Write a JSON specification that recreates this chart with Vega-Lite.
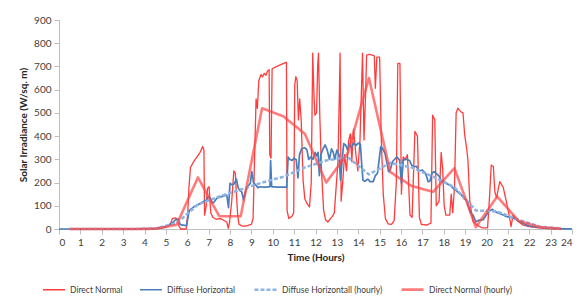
{
"$schema":"https://vega.github.io/schema/vega-lite/v6.json",
"width":513,"height":209,
"autosize":{"type":"none"},
"padding":{"left":59,"top":20,"right":10,"bottom":69},
"background":"white",
"config":{"view":{"stroke":null},"font":"Lato",
"axis":{"grid":false,"domainColor":"#BFBFBF","tickColor":"#BFBFBF","tickSize":5,"labelPadding":3,"labelFontSize":10,"labelColor":"#404040","titleFontSize":10,"titleFontWeight":"bold","titleColor":"#262626"},
"legend":{"orient":"none","legendX":-17,"legendY":257,"direction":"horizontal","labelFontSize":8.5,"labelColor":"#404040","symbolType":"stroke","symbolSize":484,"labelOffset":4,"columnPadding":13,"title":null}},
"data":{"values":[
{"s":"Direct Normal","h":0.5,"v":0},{"s":"Direct Normal","h":4.0,"v":0},{"s":"Direct Normal","h":4.5,"v":1},{"s":"Direct Normal","h":4.8,"v":4},{"s":"Direct Normal","h":5.0,"v":8},{"s":"Direct Normal","h":5.15,"v":15},{"s":"Direct Normal","h":5.25,"v":30},{"s":"Direct Normal","h":5.3,"v":45},{"s":"Direct Normal","h":5.45,"v":48},{"s":"Direct Normal","h":5.55,"v":42},{"s":"Direct Normal","h":5.62,"v":10},{"s":"Direct Normal","h":5.7,"v":0},{"s":"Direct Normal","h":5.95,"v":0},{"s":"Direct Normal","h":6.02,"v":60},{"s":"Direct Normal","h":6.08,"v":180},{"s":"Direct Normal","h":6.15,"v":265},{"s":"Direct Normal","h":6.3,"v":290},{"s":"Direct Normal","h":6.45,"v":310},{"s":"Direct Normal","h":6.6,"v":330},{"s":"Direct Normal","h":6.72,"v":355},{"s":"Direct Normal","h":6.78,"v":340},{"s":"Direct Normal","h":6.81,"v":60},{"s":"Direct Normal","h":6.88,"v":95},{"s":"Direct Normal","h":6.95,"v":175},{"s":"Direct Normal","h":7.02,"v":182},{"s":"Direct Normal","h":7.1,"v":70},{"s":"Direct Normal","h":7.2,"v":50},{"s":"Direct Normal","h":7.35,"v":42},{"s":"Direct Normal","h":7.55,"v":45},{"s":"Direct Normal","h":7.7,"v":38},{"s":"Direct Normal","h":7.85,"v":30},{"s":"Direct Normal","h":7.92,"v":3},{"s":"Direct Normal","h":7.98,"v":30},{"s":"Direct Normal","h":8.08,"v":120},{"s":"Direct Normal","h":8.18,"v":250},{"s":"Direct Normal","h":8.25,"v":240},{"s":"Direct Normal","h":8.3,"v":150},{"s":"Direct Normal","h":8.36,"v":60},{"s":"Direct Normal","h":8.42,"v":20},{"s":"Direct Normal","h":8.6,"v":12},{"s":"Direct Normal","h":8.8,"v":14},{"s":"Direct Normal","h":9.0,"v":20},{"s":"Direct Normal","h":9.08,"v":45},{"s":"Direct Normal","h":9.15,"v":310},{"s":"Direct Normal","h":9.22,"v":560},{"s":"Direct Normal","h":9.28,"v":520},{"s":"Direct Normal","h":9.35,"v":640},{"s":"Direct Normal","h":9.45,"v":665},{"s":"Direct Normal","h":9.52,"v":655},{"s":"Direct Normal","h":9.6,"v":670},{"s":"Direct Normal","h":9.68,"v":662},{"s":"Direct Normal","h":9.75,"v":680},{"s":"Direct Normal","h":9.83,"v":686},{"s":"Direct Normal","h":9.86,"v":320},{"s":"Direct Normal","h":9.92,"v":305},{"s":"Direct Normal","h":9.97,"v":690},{"s":"Direct Normal","h":10.3,"v":705},{"s":"Direct Normal","h":10.64,"v":718},{"s":"Direct Normal","h":10.67,"v":80},{"s":"Direct Normal","h":10.75,"v":45},{"s":"Direct Normal","h":10.9,"v":55},{"s":"Direct Normal","h":10.98,"v":70},{"s":"Direct Normal","h":11.03,"v":620},{"s":"Direct Normal","h":11.08,"v":656},{"s":"Direct Normal","h":11.14,"v":640},{"s":"Direct Normal","h":11.2,"v":470},{"s":"Direct Normal","h":11.26,"v":560},{"s":"Direct Normal","h":11.33,"v":470},{"s":"Direct Normal","h":11.42,"v":210},{"s":"Direct Normal","h":11.5,"v":130},{"s":"Direct Normal","h":11.6,"v":110},{"s":"Direct Normal","h":11.72,"v":95},{"s":"Direct Normal","h":11.8,"v":200},{"s":"Direct Normal","h":11.87,"v":757},{"s":"Direct Normal","h":11.92,"v":600},{"s":"Direct Normal","h":11.97,"v":490},{"s":"Direct Normal","h":12.05,"v":500},{"s":"Direct Normal","h":12.1,"v":700},{"s":"Direct Normal","h":12.14,"v":757},{"s":"Direct Normal","h":12.2,"v":490},{"s":"Direct Normal","h":12.28,"v":250},{"s":"Direct Normal","h":12.38,"v":80},{"s":"Direct Normal","h":12.47,"v":40},{"s":"Direct Normal","h":12.58,"v":30},{"s":"Direct Normal","h":12.7,"v":45},{"s":"Direct Normal","h":12.8,"v":55},{"s":"Direct Normal","h":12.88,"v":70},{"s":"Direct Normal","h":12.95,"v":160},{"s":"Direct Normal","h":13.05,"v":290},{"s":"Direct Normal","h":13.12,"v":600},{"s":"Direct Normal","h":13.15,"v":757},{"s":"Direct Normal","h":13.2,"v":120},{"s":"Direct Normal","h":13.28,"v":210},{"s":"Direct Normal","h":13.36,"v":320},{"s":"Direct Normal","h":13.45,"v":250},{"s":"Direct Normal","h":13.55,"v":380},{"s":"Direct Normal","h":13.63,"v":410},{"s":"Direct Normal","h":13.7,"v":290},{"s":"Direct Normal","h":13.78,"v":430},{"s":"Direct Normal","h":13.88,"v":330},{"s":"Direct Normal","h":13.98,"v":250},{"s":"Direct Normal","h":14.08,"v":380},{"s":"Direct Normal","h":14.15,"v":600},{"s":"Direct Normal","h":14.2,"v":757},{"s":"Direct Normal","h":14.27,"v":383},{"s":"Direct Normal","h":14.35,"v":600},{"s":"Direct Normal","h":14.39,"v":749},{"s":"Direct Normal","h":14.55,"v":752},{"s":"Direct Normal","h":14.75,"v":746},{"s":"Direct Normal","h":14.8,"v":606},{"s":"Direct Normal","h":14.87,"v":740},{"s":"Direct Normal","h":15.0,"v":740},{"s":"Direct Normal","h":15.08,"v":380},{"s":"Direct Normal","h":15.17,"v":150},{"s":"Direct Normal","h":15.27,"v":45},{"s":"Direct Normal","h":15.4,"v":22},{"s":"Direct Normal","h":15.55,"v":20},{"s":"Direct Normal","h":15.68,"v":35},{"s":"Direct Normal","h":15.78,"v":200},{"s":"Direct Normal","h":15.85,"v":713},{"s":"Direct Normal","h":15.95,"v":713},{"s":"Direct Normal","h":16.02,"v":150},{"s":"Direct Normal","h":16.1,"v":310},{"s":"Direct Normal","h":16.2,"v":300},{"s":"Direct Normal","h":16.3,"v":320},{"s":"Direct Normal","h":16.42,"v":60},{"s":"Direct Normal","h":16.52,"v":50},{"s":"Direct Normal","h":16.65,"v":420},{"s":"Direct Normal","h":16.77,"v":400},{"s":"Direct Normal","h":16.86,"v":50},{"s":"Direct Normal","h":16.95,"v":20},{"s":"Direct Normal","h":17.2,"v":17},{"s":"Direct Normal","h":17.4,"v":25},{"s":"Direct Normal","h":17.48,"v":490},{"s":"Direct Normal","h":17.58,"v":470},{"s":"Direct Normal","h":17.65,"v":100},{"s":"Direct Normal","h":17.78,"v":120},{"s":"Direct Normal","h":17.88,"v":330},{"s":"Direct Normal","h":17.95,"v":260},{"s":"Direct Normal","h":18.02,"v":100},{"s":"Direct Normal","h":18.1,"v":60},{"s":"Direct Normal","h":18.28,"v":60},{"s":"Direct Normal","h":18.35,"v":150},{"s":"Direct Normal","h":18.42,"v":70},{"s":"Direct Normal","h":18.5,"v":177},{"s":"Direct Normal","h":18.58,"v":500},{"s":"Direct Normal","h":18.66,"v":520},{"s":"Direct Normal","h":18.8,"v":505},{"s":"Direct Normal","h":18.9,"v":500},{"s":"Direct Normal","h":18.98,"v":405},{"s":"Direct Normal","h":19.07,"v":348},{"s":"Direct Normal","h":19.13,"v":300},{"s":"Direct Normal","h":19.22,"v":118},{"s":"Direct Normal","h":19.37,"v":31},{"s":"Direct Normal","h":19.6,"v":15},{"s":"Direct Normal","h":19.8,"v":5},{"s":"Direct Normal","h":20.05,"v":5},{"s":"Direct Normal","h":20.15,"v":150},{"s":"Direct Normal","h":20.22,"v":275},{"s":"Direct Normal","h":20.32,"v":270},{"s":"Direct Normal","h":20.39,"v":160},{"s":"Direct Normal","h":20.47,"v":135},{"s":"Direct Normal","h":20.62,"v":204},{"s":"Direct Normal","h":20.78,"v":180},{"s":"Direct Normal","h":20.93,"v":118},{"s":"Direct Normal","h":21.07,"v":55},{"s":"Direct Normal","h":21.15,"v":10},{"s":"Direct Normal","h":21.24,"v":60},{"s":"Direct Normal","h":21.4,"v":39},{"s":"Direct Normal","h":21.7,"v":17},{"s":"Direct Normal","h":22.0,"v":10},{"s":"Direct Normal","h":22.35,"v":6},{"s":"Direct Normal","h":22.8,"v":2},{"s":"Direct Normal","h":23.5,"v":0},
{"s":"Diffuse Horizontal","h":0,"v":0},{"s":"Diffuse Horizontal","h":4.0,"v":0},{"s":"Diffuse Horizontal","h":4.5,"v":2},{"s":"Diffuse Horizontal","h":4.8,"v":6},{"s":"Diffuse Horizontal","h":5.0,"v":10},{"s":"Diffuse Horizontal","h":5.2,"v":20},{"s":"Diffuse Horizontal","h":5.35,"v":30},{"s":"Diffuse Horizontal","h":5.45,"v":40},{"s":"Diffuse Horizontal","h":5.6,"v":42},{"s":"Diffuse Horizontal","h":5.66,"v":20},{"s":"Diffuse Horizontal","h":5.75,"v":17},{"s":"Diffuse Horizontal","h":5.97,"v":15},{"s":"Diffuse Horizontal","h":6.05,"v":60},{"s":"Diffuse Horizontal","h":6.1,"v":80},{"s":"Diffuse Horizontal","h":6.3,"v":95},{"s":"Diffuse Horizontal","h":6.5,"v":105},{"s":"Diffuse Horizontal","h":6.7,"v":115},{"s":"Diffuse Horizontal","h":6.9,"v":125},{"s":"Diffuse Horizontal","h":6.98,"v":139},{"s":"Diffuse Horizontal","h":7.07,"v":135},{"s":"Diffuse Horizontal","h":7.17,"v":112},{"s":"Diffuse Horizontal","h":7.25,"v":115},{"s":"Diffuse Horizontal","h":7.38,"v":132},{"s":"Diffuse Horizontal","h":7.55,"v":138},{"s":"Diffuse Horizontal","h":7.7,"v":142},{"s":"Diffuse Horizontal","h":7.85,"v":146},{"s":"Diffuse Horizontal","h":7.93,"v":92},{"s":"Diffuse Horizontal","h":8.0,"v":197},{"s":"Diffuse Horizontal","h":8.1,"v":190},{"s":"Diffuse Horizontal","h":8.2,"v":195},{"s":"Diffuse Horizontal","h":8.3,"v":215},{"s":"Diffuse Horizontal","h":8.38,"v":178},{"s":"Diffuse Horizontal","h":8.47,"v":165},{"s":"Diffuse Horizontal","h":8.55,"v":160},{"s":"Diffuse Horizontal","h":8.63,"v":125},{"s":"Diffuse Horizontal","h":8.75,"v":168},{"s":"Diffuse Horizontal","h":8.85,"v":185},{"s":"Diffuse Horizontal","h":8.95,"v":197},{"s":"Diffuse Horizontal","h":9.02,"v":247},{"s":"Diffuse Horizontal","h":9.1,"v":200},{"s":"Diffuse Horizontal","h":9.2,"v":190},{"s":"Diffuse Horizontal","h":9.3,"v":178},{"s":"Diffuse Horizontal","h":9.4,"v":182},{"s":"Diffuse Horizontal","h":9.6,"v":180},{"s":"Diffuse Horizontal","h":9.87,"v":182},{"s":"Diffuse Horizontal","h":9.9,"v":295},{"s":"Diffuse Horizontal","h":9.95,"v":182},{"s":"Diffuse Horizontal","h":10.3,"v":180},{"s":"Diffuse Horizontal","h":10.65,"v":180},{"s":"Diffuse Horizontal","h":10.72,"v":310},{"s":"Diffuse Horizontal","h":10.8,"v":300},{"s":"Diffuse Horizontal","h":10.9,"v":295},{"s":"Diffuse Horizontal","h":11.0,"v":305},{"s":"Diffuse Horizontal","h":11.1,"v":298},{"s":"Diffuse Horizontal","h":11.18,"v":220},{"s":"Diffuse Horizontal","h":11.25,"v":320},{"s":"Diffuse Horizontal","h":11.35,"v":345},{"s":"Diffuse Horizontal","h":11.5,"v":350},{"s":"Diffuse Horizontal","h":11.6,"v":340},{"s":"Diffuse Horizontal","h":11.68,"v":300},{"s":"Diffuse Horizontal","h":11.78,"v":310},{"s":"Diffuse Horizontal","h":11.88,"v":300},{"s":"Diffuse Horizontal","h":11.98,"v":330},{"s":"Diffuse Horizontal","h":12.05,"v":315},{"s":"Diffuse Horizontal","h":12.12,"v":330},{"s":"Diffuse Horizontal","h":12.18,"v":230},{"s":"Diffuse Horizontal","h":12.25,"v":320},{"s":"Diffuse Horizontal","h":12.35,"v":345},{"s":"Diffuse Horizontal","h":12.45,"v":362},{"s":"Diffuse Horizontal","h":12.55,"v":340},{"s":"Diffuse Horizontal","h":12.65,"v":300},{"s":"Diffuse Horizontal","h":12.75,"v":345},{"s":"Diffuse Horizontal","h":12.83,"v":330},{"s":"Diffuse Horizontal","h":12.9,"v":300},{"s":"Diffuse Horizontal","h":13.0,"v":340},{"s":"Diffuse Horizontal","h":13.1,"v":320},{"s":"Diffuse Horizontal","h":13.17,"v":210},{"s":"Diffuse Horizontal","h":13.25,"v":300},{"s":"Diffuse Horizontal","h":13.32,"v":368},{"s":"Diffuse Horizontal","h":13.42,"v":360},{"s":"Diffuse Horizontal","h":13.5,"v":340},{"s":"Diffuse Horizontal","h":13.58,"v":365},{"s":"Diffuse Horizontal","h":13.68,"v":350},{"s":"Diffuse Horizontal","h":13.78,"v":370},{"s":"Diffuse Horizontal","h":13.9,"v":360},{"s":"Diffuse Horizontal","h":14.0,"v":370},{"s":"Diffuse Horizontal","h":14.1,"v":365},{"s":"Diffuse Horizontal","h":14.16,"v":280},{"s":"Diffuse Horizontal","h":14.22,"v":210},{"s":"Diffuse Horizontal","h":14.3,"v":205},{"s":"Diffuse Horizontal","h":14.45,"v":215},{"s":"Diffuse Horizontal","h":14.55,"v":204},{"s":"Diffuse Horizontal","h":14.7,"v":204},{"s":"Diffuse Horizontal","h":14.8,"v":230},{"s":"Diffuse Horizontal","h":14.9,"v":240},{"s":"Diffuse Horizontal","h":14.98,"v":300},{"s":"Diffuse Horizontal","h":15.05,"v":354},{"s":"Diffuse Horizontal","h":15.12,"v":350},{"s":"Diffuse Horizontal","h":15.25,"v":326},{"s":"Diffuse Horizontal","h":15.33,"v":290},{"s":"Diffuse Horizontal","h":15.42,"v":247},{"s":"Diffuse Horizontal","h":15.5,"v":255},{"s":"Diffuse Horizontal","h":15.6,"v":290},{"s":"Diffuse Horizontal","h":15.7,"v":300},{"s":"Diffuse Horizontal","h":15.8,"v":311},{"s":"Diffuse Horizontal","h":15.93,"v":297},{"s":"Diffuse Horizontal","h":16.02,"v":197},{"s":"Diffuse Horizontal","h":16.1,"v":297},{"s":"Diffuse Horizontal","h":16.25,"v":300},{"s":"Diffuse Horizontal","h":16.4,"v":295},{"s":"Diffuse Horizontal","h":16.5,"v":275},{"s":"Diffuse Horizontal","h":16.6,"v":268},{"s":"Diffuse Horizontal","h":16.72,"v":270},{"s":"Diffuse Horizontal","h":16.85,"v":250},{"s":"Diffuse Horizontal","h":17.0,"v":254},{"s":"Diffuse Horizontal","h":17.15,"v":240},{"s":"Diffuse Horizontal","h":17.27,"v":204},{"s":"Diffuse Horizontal","h":17.35,"v":205},{"s":"Diffuse Horizontal","h":17.45,"v":240},{"s":"Diffuse Horizontal","h":17.55,"v":247},{"s":"Diffuse Horizontal","h":17.7,"v":235},{"s":"Diffuse Horizontal","h":17.8,"v":225},{"s":"Diffuse Horizontal","h":17.9,"v":204},{"s":"Diffuse Horizontal","h":18.02,"v":204},{"s":"Diffuse Horizontal","h":18.15,"v":195},{"s":"Diffuse Horizontal","h":18.3,"v":188},{"s":"Diffuse Horizontal","h":18.45,"v":175},{"s":"Diffuse Horizontal","h":18.6,"v":165},{"s":"Diffuse Horizontal","h":18.7,"v":155},{"s":"Diffuse Horizontal","h":18.83,"v":146},{"s":"Diffuse Horizontal","h":18.95,"v":130},{"s":"Diffuse Horizontal","h":19.07,"v":125},{"s":"Diffuse Horizontal","h":19.15,"v":100},{"s":"Diffuse Horizontal","h":19.25,"v":70},{"s":"Diffuse Horizontal","h":19.37,"v":60},{"s":"Diffuse Horizontal","h":19.5,"v":31},{"s":"Diffuse Horizontal","h":19.65,"v":38},{"s":"Diffuse Horizontal","h":19.85,"v":40},{"s":"Diffuse Horizontal","h":19.95,"v":55},{"s":"Diffuse Horizontal","h":20.1,"v":75},{"s":"Diffuse Horizontal","h":20.27,"v":85},{"s":"Diffuse Horizontal","h":20.4,"v":75},{"s":"Diffuse Horizontal","h":20.6,"v":67},{"s":"Diffuse Horizontal","h":20.8,"v":60},{"s":"Diffuse Horizontal","h":20.95,"v":53},{"s":"Diffuse Horizontal","h":21.2,"v":50},{"s":"Diffuse Horizontal","h":21.4,"v":40},{"s":"Diffuse Horizontal","h":21.56,"v":31},{"s":"Diffuse Horizontal","h":21.8,"v":20},{"s":"Diffuse Horizontal","h":22.0,"v":13},{"s":"Diffuse Horizontal","h":22.3,"v":9},{"s":"Diffuse Horizontal","h":22.65,"v":6},{"s":"Diffuse Horizontal","h":23.0,"v":3},{"s":"Diffuse Horizontal","h":23.5,"v":1},{"s":"Diffuse Horizontal","h":24,"v":0},
{"s":"Diffuse Horizontall (hourly)","h":0.5,"v":0},{"s":"Diffuse Horizontall (hourly)","h":1.5,"v":0},{"s":"Diffuse Horizontall (hourly)","h":2.5,"v":0},{"s":"Diffuse Horizontall (hourly)","h":3.5,"v":0},{"s":"Diffuse Horizontall (hourly)","h":4.5,"v":2},{"s":"Diffuse Horizontall (hourly)","h":5.5,"v":25},{"s":"Diffuse Horizontall (hourly)","h":6.5,"v":105},{"s":"Diffuse Horizontall (hourly)","h":7.5,"v":140},{"s":"Diffuse Horizontall (hourly)","h":8.5,"v":170},{"s":"Diffuse Horizontall (hourly)","h":9.5,"v":200},{"s":"Diffuse Horizontall (hourly)","h":10.5,"v":225},{"s":"Diffuse Horizontall (hourly)","h":11.5,"v":265},{"s":"Diffuse Horizontall (hourly)","h":12.5,"v":295},{"s":"Diffuse Horizontall (hourly)","h":13.5,"v":310},{"s":"Diffuse Horizontall (hourly)","h":14.5,"v":235},{"s":"Diffuse Horizontall (hourly)","h":15.5,"v":285},{"s":"Diffuse Horizontall (hourly)","h":16.5,"v":265},{"s":"Diffuse Horizontall (hourly)","h":17.5,"v":225},{"s":"Diffuse Horizontall (hourly)","h":18.5,"v":180},{"s":"Diffuse Horizontall (hourly)","h":19.5,"v":80},{"s":"Diffuse Horizontall (hourly)","h":20.5,"v":75},{"s":"Diffuse Horizontall (hourly)","h":21.5,"v":40},{"s":"Diffuse Horizontall (hourly)","h":22.5,"v":10},{"s":"Diffuse Horizontall (hourly)","h":23.5,"v":2},
{"s":"Direct Normal (hourly)","h":0.5,"v":0},{"s":"Direct Normal (hourly)","h":1.5,"v":0},{"s":"Direct Normal (hourly)","h":2.5,"v":0},{"s":"Direct Normal (hourly)","h":3.5,"v":0},{"s":"Direct Normal (hourly)","h":4.5,"v":1},{"s":"Direct Normal (hourly)","h":5.5,"v":18},{"s":"Direct Normal (hourly)","h":6.5,"v":222},{"s":"Direct Normal (hourly)","h":7.5,"v":55},{"s":"Direct Normal (hourly)","h":8.5,"v":55},{"s":"Direct Normal (hourly)","h":9.5,"v":520},{"s":"Direct Normal (hourly)","h":10.5,"v":485},{"s":"Direct Normal (hourly)","h":11.5,"v":410},{"s":"Direct Normal (hourly)","h":12.5,"v":200},{"s":"Direct Normal (hourly)","h":13.5,"v":325},{"s":"Direct Normal (hourly)","h":14.5,"v":650},{"s":"Direct Normal (hourly)","h":15.5,"v":245},{"s":"Direct Normal (hourly)","h":16.5,"v":185},{"s":"Direct Normal (hourly)","h":17.5,"v":160},{"s":"Direct Normal (hourly)","h":18.5,"v":262},{"s":"Direct Normal (hourly)","h":19.5,"v":8},{"s":"Direct Normal (hourly)","h":20.5,"v":140},{"s":"Direct Normal (hourly)","h":21.5,"v":35},{"s":"Direct Normal (hourly)","h":22.5,"v":8},{"s":"Direct Normal (hourly)","h":23.5,"v":1}
]},
"encoding":{
"x":{"field":"h","type":"quantitative","scale":{"domain":[0,24],"nice":false,"zero":false},"axis":{"values":[0,1,2,3,4,5,6,7,8,9,10,11,12,13,14,15,16,17,18,19,20,21,22,23,24],"format":"d","title":"Time (Hours)","titlePadding":5}},
"y":{"field":"v","type":"quantitative","scale":{"domain":[0,900],"nice":false},"axis":{"values":[0,100,200,300,400,500,600,700,800,900],"title":"Solar Irradiance (W/sq. m)","titlePadding":5}},
"color":{"field":"s","type":"nominal","scale":{"domain":["Direct Normal","Diffuse Horizontal","Diffuse Horizontall (hourly)","Direct Normal (hourly)"],"range":["#FF1A1A","#4A7EBB","#8DB4E2","#FF4545"]},"title":null},
"strokeDash":{"field":"s","type":"nominal","scale":{"domain":["Direct Normal","Diffuse Horizontal","Diffuse Horizontall (hourly)","Direct Normal (hourly)"],"range":[[1,0],[1,0],[4,2],[1,0]]},"title":null},
"strokeWidth":{"field":"s","type":"nominal","scale":{"type":"ordinal","domain":["Direct Normal","Diffuse Horizontal","Diffuse Horizontall (hourly)","Direct Normal (hourly)"],"range":[1.3,1.7,2.5,2.6]},"title":null},
"opacity":{"field":"s","type":"nominal","scale":{"type":"ordinal","domain":["Direct Normal","Diffuse Horizontal","Diffuse Horizontall (hourly)","Direct Normal (hourly)"],"range":[0.85,1,1,0.7]},"title":null}
},
"layer":[
{"transform":[{"filter":"datum.s==='Direct Normal'"}],"mark":{"type":"line","strokeJoin":"round"}},
{"transform":[{"filter":"datum.s==='Diffuse Horizontal'"}],"mark":{"type":"line","strokeJoin":"round"}},
{"transform":[{"filter":"datum.s==='Diffuse Horizontall (hourly)'"}],"mark":{"type":"line","strokeJoin":"round"}},
{"transform":[{"filter":"datum.s==='Direct Normal (hourly)'"}],"mark":{"type":"line","strokeJoin":"round"}}
]
}
